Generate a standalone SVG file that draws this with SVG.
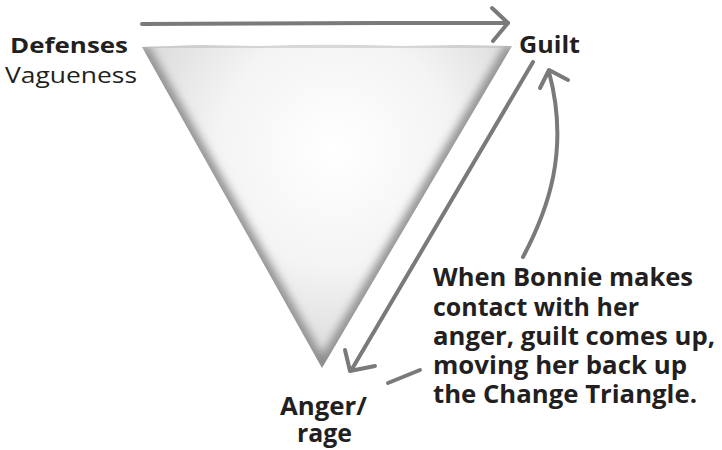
<svg xmlns="http://www.w3.org/2000/svg" width="722" height="450" viewBox="0 0 722 450">
<style>
.lbl{font-family:"Open Sans","Noto Sans","Liberation Sans",sans-serif;fill:#231f20}
.b{font-weight:bold}
.arr{fill:none;stroke:#7a7a7a;stroke-width:4;stroke-linecap:round;stroke-linejoin:round}
</style>
<defs>
<radialGradient id="tg" cx="335" cy="150" r="260" gradientUnits="userSpaceOnUse">
<stop offset="0" stop-color="#ffffff"/>
<stop offset="0.45" stop-color="#f4f4f4"/>
<stop offset="0.8" stop-color="#dcdcdc"/>
<stop offset="1" stop-color="#bdbdbd"/>
</radialGradient>
<clipPath id="tc"><path d="M142,47 L200,45 L260,46 L330,44 L400,46 L460,45 L512,46 L322,368 Z"/></clipPath>
<filter id="bl" x="-20%" y="-20%" width="140%" height="140%"><feGaussianBlur stdDeviation="5"/></filter>
</defs>
<g id="triangle">
<path d="M142,47 L200,45 L260,46 L330,44 L400,46 L460,45 L512,46 L322,368 Z" fill="url(#tg)"/>
<g clip-path="url(#tc)">
<path d="M142,47 L322,368 L512,46" fill="none" stroke="#8a8a8a" stroke-width="12" filter="url(#bl)"/>
<path d="M142,47 L512,46" fill="none" stroke="#b5b5b5" stroke-width="6" filter="url(#bl)"/>
</g>
</g>
<g id="connectors">
<path class="arr" d="M142,24 L250,23.5 L380,23 L508,23"/>
<path class="arr" d="M492,8 L508,23 L493,41"/>
<path class="arr" d="M533,62 L352,369"/>
<path class="arr" d="M345,350 L350,371 L375,366"/>
<path class="arr" d="M523,257 C548,210 570,150 549,72"/>
<path class="arr" d="M540,88 L549,70 L568,80"/>
<path class="arr" d="M388,383 L420,370"/>
</g>
<g id="defenses">
<text class="lbl b" x="10" y="53" font-size="22" textLength="118" lengthAdjust="spacingAndGlyphs">Defenses</text>
<text class="lbl" x="5" y="83" font-size="22" textLength="132" lengthAdjust="spacingAndGlyphs">Vagueness</text>
</g>
<g id="guilt">
<text class="lbl b" x="519" y="53" font-size="23" textLength="61" lengthAdjust="spacingAndGlyphs">Guilt</text>
</g>
<g id="anger">
<text class="lbl b" x="280" y="415" font-size="25" textLength="87" lengthAdjust="spacingAndGlyphs">Anger/</text>
<text class="lbl b" x="297" y="442" font-size="25" textLength="55" lengthAdjust="spacingAndGlyphs">rage</text>
</g>
<g id="note">
<text class="lbl b" x="433" y="286" font-size="25" textLength="260" lengthAdjust="spacingAndGlyphs">When Bonnie makes</text>
<text class="lbl b" x="433" y="316" font-size="25" textLength="206" lengthAdjust="spacingAndGlyphs">contact with her</text>
<text class="lbl b" x="433" y="345" font-size="25" textLength="282" lengthAdjust="spacingAndGlyphs">anger, guilt comes up,</text>
<text class="lbl b" x="433" y="374" font-size="25" textLength="254" lengthAdjust="spacingAndGlyphs">moving her back up</text>
<text class="lbl b" x="433" y="403" font-size="25" textLength="264" lengthAdjust="spacingAndGlyphs">the Change Triangle.</text>
</g>
</svg>
